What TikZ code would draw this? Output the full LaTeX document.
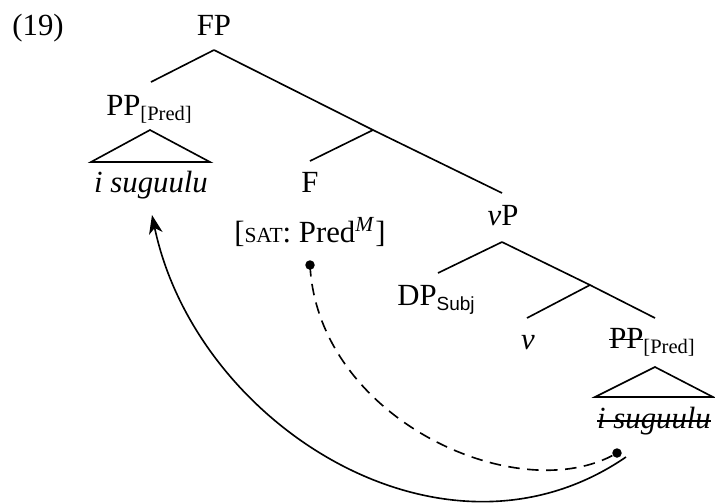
\documentclass[tikz,border=0pt,12pt]{standalone}
\usepackage{fontspec}
\setmainfont{Liberation Serif}
\setsansfont{Liberation Sans}
\usetikzlibrary{arrows.meta}
\newsavebox{\strkbox}
\newcommand{\mystrike}[2]{\sbox{\strkbox}{#2}\rlap{\usebox{\strkbox}}\rule[#1]{\wd\strkbox}{0.55pt}}
\newcommand{\fakesc}[1]{{\fontsize{8.6}{10}\selectfont #1}}
\newcommand{\lowsub}[1]{\raisebox{-2.2pt}{\fontsize{8.2}{9}\selectfont #1}}
\newcommand{\lowsubsf}[1]{\raisebox{-2.2pt}{\fontsize{7.6}{9}\selectfont\sffamily #1}}
\begin{document}
\begin{tikzpicture}[x=0.4pt,y=-0.4pt,
  font=\fontsize{12.3}{14}\selectfont,
  lbl/.style={anchor=base, inner sep=0pt},
  branch/.style={line width=0.65pt, line join=miter},
  movedash/.style={line width=0.65pt, dash pattern=on 4.6pt off 3pt},
  moveline/.style={line width=0.65pt, -{Stealth[length=7.5pt,width=5.5pt,inset=2.2pt]}},
  dotmark/.style={fill=black}]
\useasboundingbox (0,0) rectangle (715,503);

% labels
\node[lbl, anchor=base west] (ex) at (12,35) {(19)};
\node[lbl] (FP) at (214,35) {FP};
\node[lbl] (PPl) at (149,115) {PP\lowsub{[Pred]}};
\node[lbl] (PPlt) at (151,192) {\textit{i suguulu}};
\node[lbl] (F) at (310,192) {F};
\node[lbl] (Ffeat) at (310,242) {[\fakesc{SAT}: Pred\textsuperscript{\textit{M}}]};
\node[lbl] (vP) at (503,225) {\textit{v}P};
\node[lbl] (DP) at (436,305) {DP\lowsubsf{Subj}};
\node[lbl] (v) at (528,349) {\textit{v}};
\node[lbl] (PPr) at (652,348) {\mystrike{3.1pt}{PP}\lowsub{[Pred]}};
\node[lbl] (PPrt) at (654,428) {\mystrike{2.5pt}{\textit{i suguulu}}};

% tree points
\coordinate (fpA) at (214,50);
\coordinate (ppA) at (151,82);
\coordinate (barA) at (373,130);
\coordinate (fA) at (310,161);
\coordinate (vpA) at (502,193);
\coordinate (vpB) at (502,242);
\coordinate (dpA) at (438,273);
\coordinate (vbarA) at (590,285);
\coordinate (vA) at (527,318);
\coordinate (pprA) at (655,318);
\coordinate (triLa) at (150,130);
\coordinate (triLl) at (91,162);
\coordinate (triLr) at (210,162);
\coordinate (triRa) at (655,367);
\coordinate (triRl) at (595,397);
\coordinate (triRr) at (713,397);

\draw[branch] (fpA) -- (ppA);
\draw[branch] (fpA) -- (barA) -- (vpA);
\draw[branch] (barA) -- (fA);
\draw[branch] (vpB) -- (dpA);
\draw[branch] (vpB) -- (vbarA) -- (pprA);
\draw[branch] (vbarA) -- (vA);
\draw[branch] (triLa) -- (triLl) -- (triLr) -- cycle;
\draw[branch] (triRa) -- (triRl) -- (triRr) -- cycle;

% movement arrows
\coordinate (dA) at (310,265);
\coordinate (dB) at (617,453);
\coordinate (sA) at (626,457);
\coordinate (sB) at (152,215);
\draw[movedash] (dA) .. controls (318,420) and (520,510) .. (dB);
\fill[dotmark] (dA) circle[radius=1.9pt];
\fill[dotmark] (dB) circle[radius=1.9pt];
\draw[moveline] (sA) .. controls (444,582) and (196,425) .. (sB);
\end{tikzpicture}
\end{document}
